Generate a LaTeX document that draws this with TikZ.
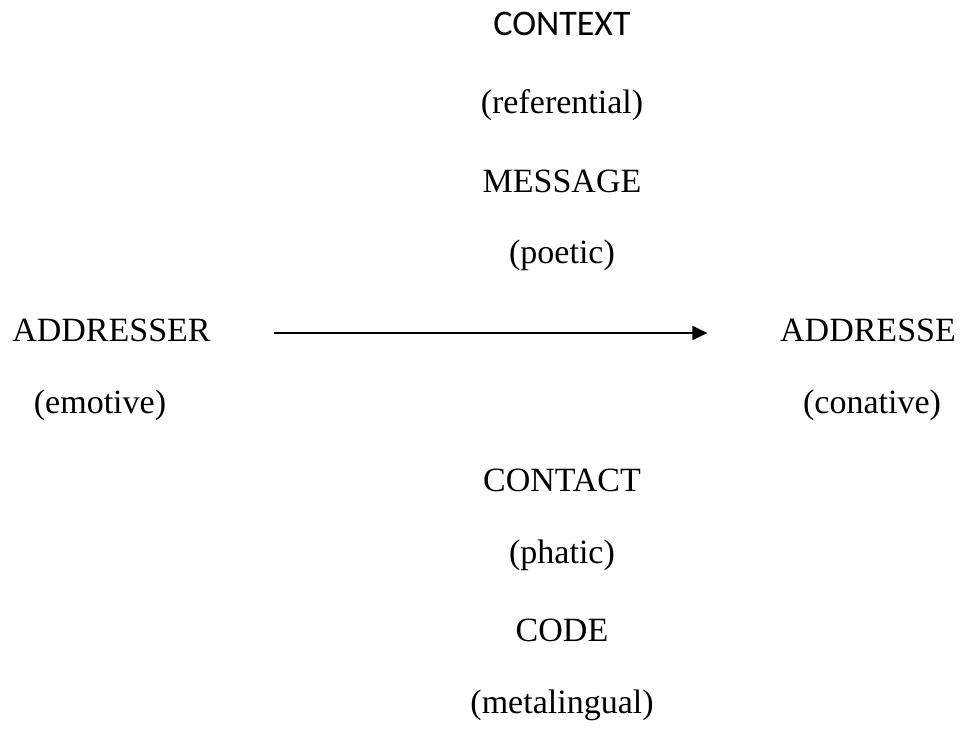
\documentclass[tikz,border=0pt]{standalone}
\usepackage{fontspec}
\setmainfont{Liberation Serif}
\newfontfamily\calfont{Carlito}
\usetikzlibrary{arrows.meta}

\begin{document}
\begin{tikzpicture}[x=1pt, y=-1pt,
    lbl/.style={inner sep=0pt, font=\fontsize{34}{40}\selectfont},
    sanslbl/.style={inner sep=0pt, font=\calfont\fontsize{36}{42}\selectfont},
    arr/.style={-{Triangle[length=15pt, width=14pt]}, line width=1.5pt}]
    \useasboundingbox (0,0) rectangle (960,728);
    %--- Midtkolonne oppe ---
    \node[sanslbl] (context) at (562,23.5){CONTEXT};
    \node[lbl] (referential) at (562,105){(referential)};
    \node[lbl] (message) at (562,181){MESSAGE};
    \node[lbl] (poetic) at (562,255){(poetic)};
    %--- Avsender og mottaker ---
    \node[lbl] (addresser) at (111.5,330){ADDRESSER};
    \node[lbl] (emotive) at (100,405){(emotive)};
    \node[lbl] (addressee) at (868,330){ADDRESSE};
    \node[lbl] (conative) at (872,405){(conative)};
    \draw[arr]([xshift=63pt, yshift=-3pt]addresser.east)--([xshift=-72.5pt, yshift=-3pt]addressee.west);
    %--- Midtkolonne nede ---
    \node[lbl] (contact) at (562,480){CONTACT};
    \node[lbl] (phatic) at (562,555){(phatic)};
    \node[lbl] (code) at (562,630){CODE};
    \node[lbl] (metalingual) at (562,705){(metalingual)};
  \end{tikzpicture}
\end{document}
